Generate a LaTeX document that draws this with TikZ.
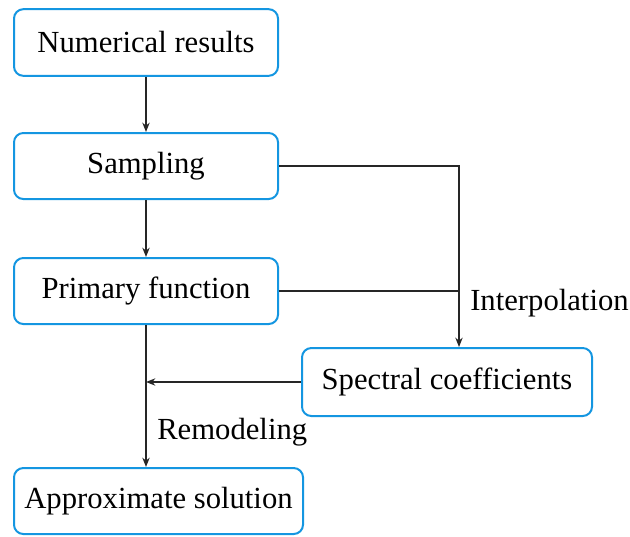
\documentclass[tikz,border=0pt]{standalone}
\usepackage{fontspec}
\setmainfont{Liberation Serif}
\usetikzlibrary{arrows.meta}
\definecolor{boxblue}{RGB}{20,150,225}
\begin{document}
\begin{tikzpicture}[x=0.75pt,y=-0.75pt,
  stepbox/.style={draw=boxblue,line width=1.5pt,rounded corners=7pt,fill=white,
    inner sep=0pt,font=\fontsize{23}{27}\selectfont},
  link/.style={draw=black!85,line width=1.1pt},
  arr/.style={link,-{Stealth[length=7pt,width=5.5pt]}},
  lbl/.style={font=\fontsize{23}{27}\selectfont,inner sep=0pt}]
\useasboundingbox (0,0) rectangle (630,536);
% process boxes
\node[stepbox,minimum width=198pt,minimum height=50pt] (num) at (146,42.5) {Numerical results};
\node[stepbox,minimum width=198pt,minimum height=49.5pt] (samp) at (146,166) {Sampling};
\node[stepbox,minimum width=198pt,minimum height=49.5pt] (prim) at (146,291) {Primary function};
\node[stepbox,minimum width=217.5pt,minimum height=51pt] (spec) at (447,382) {Spectral coefficients};
\node[stepbox,minimum width=216.75pt,minimum height=49.5pt] (appr) at (158.5,501) {Approximate solution};
% junction points
\coordinate (tap) at (459,291);
\coordinate (merge) at (146,382);
% connectors
\draw[arr] (num) -- (samp);
\draw[arr] (samp) -- (prim);
\draw[arr] (samp.east) -| (tap) -- (tap |- spec.north);
\draw[link] (prim.east) -- (tap);
\draw[arr] (spec.west) -- (merge);
\draw[arr] (prim.south) -- (prim.south |- appr.north);
% labels
\node[lbl,anchor=west] (interp) at (470,303) {Interpolation};
\node[lbl,anchor=west] (remod) at (157,432) {Remodeling};
\end{tikzpicture}
\end{document}
